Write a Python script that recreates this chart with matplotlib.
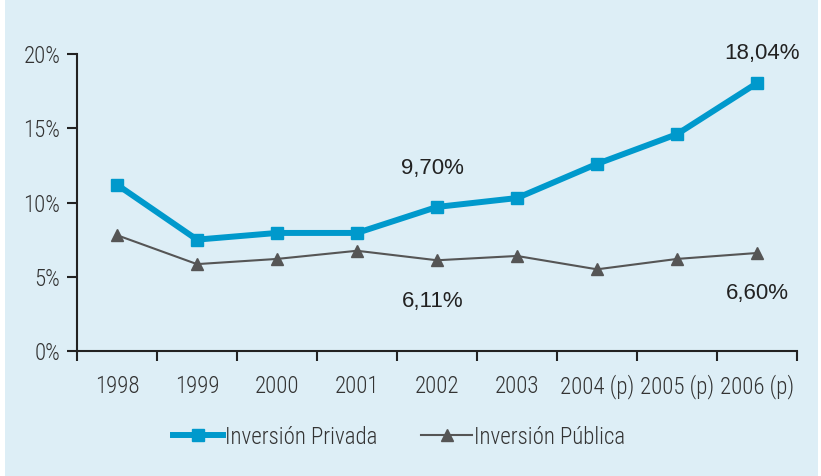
import matplotlib
matplotlib.use('Agg')
import matplotlib.pyplot as plt
from matplotlib.patches import Rectangle
from matplotlib.ticker import FixedLocator, NullFormatter, FuncFormatter

# data (% of GDP)
years = ['1998', '1999', '2000', '2001', '2002', '2003', '2004 (p)', '2005 (p)', '2006 (p)']
privada = [11.2, 7.5, 7.95, 7.95, 9.70, 10.3, 12.6, 14.6, 18.04]
publica = [7.8, 5.85, 6.2, 6.75, 6.11, 6.4, 5.5, 6.2, 6.60]
labels_priv = {4: '9,70%', 8: '18,04%'}
labels_pub = {4: '6,11%', 8: '6,60%'}

bg = '#ddeef6'
blue = '#0099cc'
grey = '#555555'
narrow = ['Roboto Condensed', 'Archivo Narrow', 'DejaVu Sans']

fig = plt.figure(figsize=(8.21, 4.76), dpi=100)
fig.patch.set_facecolor('white')
fig.patches.append(Rectangle((5 / 821, 0), 813 / 821, 1, transform=fig.transFigure,
                             facecolor=bg, edgecolor='none', zorder=-10))

ax = fig.add_axes([77 / 821, 1 - 351 / 476, 720 / 821, 297 / 476])
ax.set_facecolor(bg)
ax.patch.set_alpha(0)

x = list(range(len(years)))
ax.plot(x, privada, color=blue, lw=4.3, marker='s', ms=8, solid_joinstyle='round',
        label='Inversión Privada', zorder=3)
ax.plot(x, publica, color=grey, lw=1.5, marker='^', ms=9,
        label='Inversión Pública', zorder=2)

for i, t in labels_priv.items():
    dy = 2.0 if i == 8 else 2.6
    ax.text(x[i] + (0.06 if i == 8 else -0.06), privada[i] + dy, t, ha='center', va='center',
            fontsize=16, color='#222222', family='Liberation Sans')
for i, t in labels_pub.items():
    ax.text(x[i] - (0.06 if i == 4 else 0.0), publica[i] - 2.75, t, ha='center', va='center',
            fontsize=16, color='#222222', family='Liberation Sans')

ax.set_xlim(-0.5, len(years) - 0.5)
ax.set_ylim(0, 20)
ax.set_yticks([0, 5, 10, 15, 20])
ax.yaxis.set_major_formatter(FuncFormatter(lambda v, p: '%d%%' % v))
ax.xaxis.set_major_locator(FixedLocator([i - 0.5 for i in range(len(years) + 1)]))
ax.xaxis.set_major_formatter(NullFormatter())
ax.xaxis.set_minor_locator(FixedLocator(x))
ax.set_xticklabels(years, minor=True)
ax.tick_params(axis='x', which='major', direction='out', length=7, width=1.5, color='#222222')
ax.tick_params(axis='x', which='minor', length=0, pad=17)
ax.tick_params(axis='y', direction='out', length=7, width=1.5, color='#222222', pad=5)
for lab in ax.get_xticklabels(minor=True) + ax.get_yticklabels():
    lab.set_family(narrow)
    lab.set_fontweight('light')
    lab.set_fontsize(16.5)
    lab.set_color('#333333')

for s in ['top', 'right']:
    ax.spines[s].set_visible(False)
for s in ['left', 'bottom']:
    ax.spines[s].set_linewidth(1.5)
    ax.spines[s].set_color('#222222')

leg = fig.legend(loc='center', bbox_to_anchor=(399 / 821, 1 - 437 / 476), ncol=2,
                 frameon=False, handlelength=2.2, handletextpad=0.1, columnspacing=1.9,
                 prop={'family': narrow, 'size': 16.5, 'weight': 'light'})
for t in leg.get_texts():
    t.set_color('#333333')

fig.savefig('out.png', dpi=100, facecolor=fig.get_facecolor())
